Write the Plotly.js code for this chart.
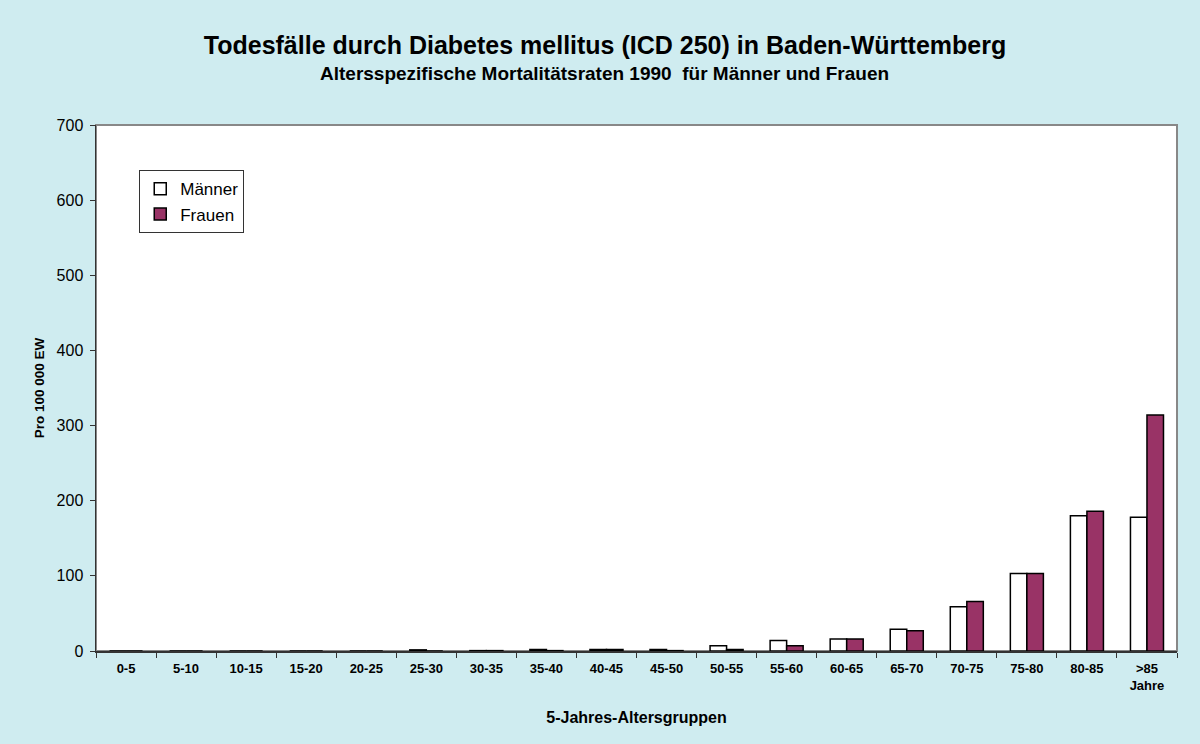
<!DOCTYPE html>
<html>
<head>
<meta charset="utf-8">
<script src="https://cdn.plot.ly/plotly-3.0.1.min.js"></script>
<style>html,body{margin:0;padding:0;background:#CFECF0;}#chart{width:1200px;height:744px;}</style>
</head>
<body>
<div id="chart"></div>
<script>
const categories = ["0-5","5-10","10-15","15-20","20-25","25-30","30-35","35-40","40-45","45-50","50-55","55-60","60-65","65-70","70-75","75-80","80-85",">85<br>Jahre"];
const maenner = [0,0,0,0,0,1.5,0.5,2,2,2,7,14,16,29,59,103,180,178];
const frauen  = [0,0,0,0,0,0,0.5,0.5,2,0.5,2,7,16,27,66,103,186,314];
const yTicks = [0,100,200,300,400,500,600,700];
const titleText = "Todesfälle durch Diabetes mellitus (ICD 250) in Baden-Württemberg";
const subtitleText = "Altersspezifische Mortalitätsraten 1990  für Männer und Frauen";

const font = "Liberation Sans, Arial, sans-serif";
const traces = [
  {type:"bar", name:"Männer", x:categories, y:maenner,
   marker:{color:"#FFFFFF", line:{color:"#000000", width:1.5}}},
  {type:"bar", name:"Frauen", x:categories, y:frauen,
   marker:{color:"#993366", line:{color:"#000000", width:1.5}}}
];
const layout = {
  width:1200, height:744,
  paper_bgcolor:"#CFECF0", plot_bgcolor:"#FFFFFF",
  margin:{l:96, r:23, t:125, b:93},
  barmode:"group", bargap:0.45, bargroupgap:0,
  font:{family:font, color:"#000"},
  title:{text:"<b>" + titleText + "</b>",
         x:605/1200, xanchor:"center", xref:"container", y:1 - 45/744, yanchor:"middle",
         font:{family:font, size:25, color:"#000"}},
  annotations:[{text:"<b>" + subtitleText + "</b>", xref:"paper", yref:"paper",
                x:(604-96)/1081, xanchor:"center", y:(651-75)/525, yanchor:"middle", showarrow:false,
                font:{family:font, size:19, color:"#000"}}],
  xaxis:{type:"category", showline:true, linecolor:"#333", linewidth:1.5,
         ticks:"outside", tickson:"boundaries", ticklen:5, tickcolor:"#333",
         ticklabelstandoff:5,
         tickfont:{family:font, size:13, color:"#000", weight:"bold"},
         title:{text:"<b>5-Jahres-Altersgruppen</b>", font:{family:font, size:16}, standoff:20},
         showgrid:false, zeroline:false, automargin:false},
  yaxis:{range:[0,700], tickvals:yTicks, showline:true, linecolor:"#333", linewidth:1.5,
         ticks:"outside", ticklen:5, tickcolor:"#333", ticklabelstandoff:3,
         tickfont:{family:font, size:16, color:"#000"},
         title:{text:"<b>Pro 100 000 EW</b>", font:{family:font, size:13.5}, standoff:9},
         showgrid:false, zeroline:false, automargin:false},
  legend:{x:0.04, y:0.914, xanchor:"left", yanchor:"top", bgcolor:"#FFFFFF",
          bordercolor:"#333", borderwidth:1, font:{family:font, size:17}, tracegroupgap:2},
  shapes:[{type:"rect", xref:"paper", yref:"paper", x0:0, x1:1, y0:0, y1:1,
           line:{color:"#888", width:2}, layer:"below"}]
};
Plotly.newPlot("chart", traces, layout, {displayModeBar:false, staticPlot:true});
</script>
</body>
</html>
